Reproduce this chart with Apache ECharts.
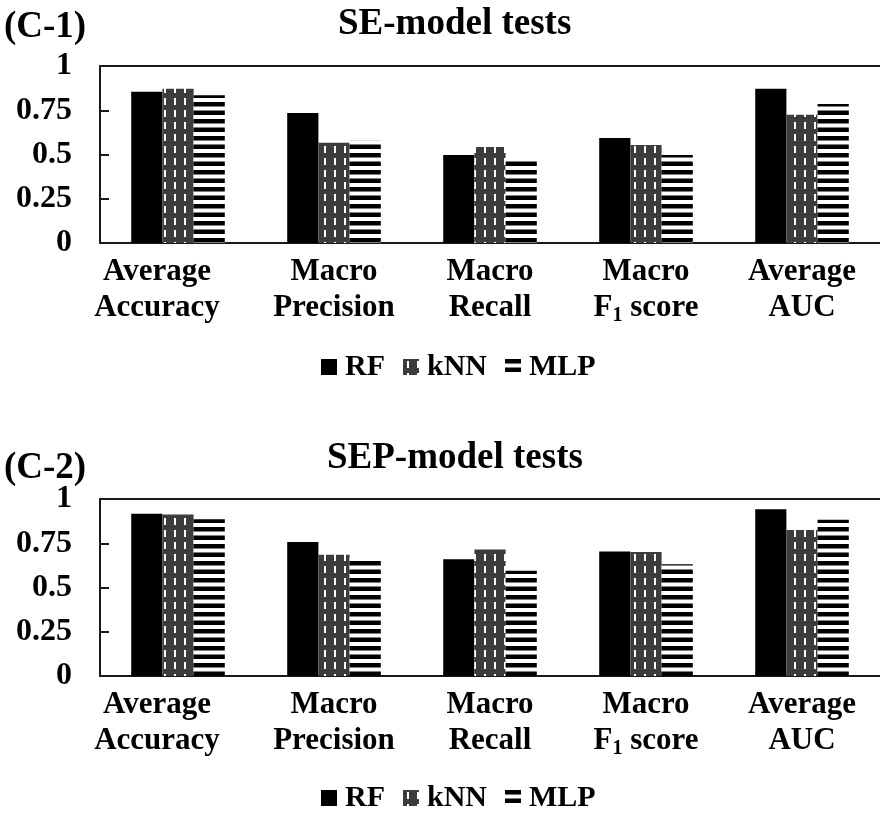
<!DOCTYPE html>
<html>
<head>
<meta charset="utf-8">
<script src="https://cdn.jsdelivr.net/npm/echarts@6.0.0/dist/echarts.min.js"></script>
<style>
  html, body { margin: 0; padding: 0; background: #fff; }
  #main { width: 880px; height: 814px; }
</style>
</head>
<body>
<div id="main"></div>
<script>
// categories and values
const categories = ["Average\nAccuracy", "Macro\nPrecision", "Macro\nRecall", "Macro\nF{s|1} score", "Average\nAUC"];
const seriesNames = ["RF", "kNN", "MLP"];

// (C-1) SE-model tests
const seRF = [0.854, 0.735, 0.497, 0.593, 0.871];
const seKNN = [0.871, 0.567, 0.542, 0.553, 0.725];
const seMLP = [0.835, 0.578, 0.465, 0.497, 0.786];

// (C-2) SEP-model tests
const sepRF = [0.917, 0.757, 0.659, 0.704, 0.942];
const sepKNN = [0.913, 0.685, 0.714, 0.700, 0.825];
const sepMLP = [0.885, 0.672, 0.595, 0.631, 0.883];

const FONT = "Liberation Serif";

// pattern fills, like the office-chart hatch styles
const makeKnnPattern = () => {
    const c = document.createElement("canvas");
    c.width = 10;
    c.height = 12;
    const ctx = c.getContext("2d");
    ctx.fillStyle = "#3c3c3c";
    ctx.fillRect(0, 0, 10, 12);
    ctx.fillStyle = "#ffffff";
    ctx.fillRect(4, 2, 2, 7);
    return c;
};

const makeMlpPattern = () => {
    const c = document.createElement("canvas");
    c.width = 4;
    c.height = 17;
    const ctx = c.getContext("2d");
    ctx.fillStyle = "#ffffff";
    ctx.fillRect(0, 0, 4, 17);
    ctx.fillStyle = "#000000";
    ctx.fillRect(0, 0, 4, 4.5);
    ctx.fillRect(0, 8.5, 4, 4.5);
    return c;
};

const knnFill = { image: makeKnnPattern(), repeat: "repeat" };
const mlpFill = { image: makeMlpPattern(), repeat: "repeat" };
const fills = ["#000000", knnFill, mlpFill];

const axisLineStyle = { color: "#1a1a1a", width: 2 };

const grids = [
    { left: 100, top: 66, width: 780, height: 177 },
    { left: 100, top: 499, width: 780, height: 177 }
];

// first label sits a bit left of its bar group in the original
const categoryData = categories.map((c, i) =>
    i === 0 ? { value: c, textStyle: { padding: [0, 42, 0, 0] } } : c
);

const xAxes = [];
const yAxes = [];
[0, 1].forEach(gi => {
    // bottom category axis with labels
    xAxes.push({
        type: "category",
        gridIndex: gi,
        data: categoryData,
        axisLine: { lineStyle: axisLineStyle },
        axisTick: { show: false },
        axisLabel: {
            interval: 0,
            margin: 11,
            color: "#000",
            fontFamily: FONT,
            fontWeight: "bold",
            fontSize: 31,
            lineHeight: 36,
            rich: {
                s: {
                    fontFamily: FONT,
                    fontWeight: "bold",
                    fontSize: 20,
                    color: "#000",
                    verticalAlign: "bottom",
                    lineHeight: 30
                }
            }
        }
    });
    // top frame line
    xAxes.push({
        type: "category",
        gridIndex: gi,
        position: "top",
        data: categories,
        axisLine: { lineStyle: axisLineStyle },
        axisTick: { show: false },
        axisLabel: { show: false }
    });
    yAxes.push({
        type: "value",
        gridIndex: gi,
        min: 0,
        max: 1,
        interval: 0.25,
        splitLine: { show: false },
        axisLine: { show: true, lineStyle: axisLineStyle },
        axisTick: { show: true, inside: true, length: 9, lineStyle: axisLineStyle },
        axisLabel: {
            margin: 28,
            color: "#000",
            fontFamily: FONT,
            fontWeight: "bold",
            fontSize: 32
        }
    });
});

const panelData = [[seRF, seKNN, seMLP], [sepRF, sepKNN, sepMLP]];
const series = [];
panelData.forEach((set, gi) => {
    set.forEach((vals, si) => {
        series.push({
            name: seriesNames[si],
            type: "bar",
            xAxisIndex: gi * 2,
            yAxisIndex: gi,
            barGap: "0%",
            barCategoryGap: "40%",
            itemStyle: { color: fills[si] },
            emphasis: { disabled: true },
            data: vals
        });
    });
});

const titleStyle = { fontFamily: FONT, fontWeight: "bold", fontSize: 37, color: "#000" };
const legendBase = {
    itemWidth: 16,
    itemHeight: 16,
    itemGap: 18,
    icon: "rect",
    textStyle: { fontFamily: FONT, fontWeight: "bold", fontSize: 30, color: "#000", padding: [0, 0, 0, 3] },
    data: seriesNames
};

const chart = echarts.init(document.getElementById("main"), null, { renderer: "canvas" });
chart.setOption({
    animation: false,
    backgroundColor: "#ffffff",
    title: [
        { text: "(C-1)", left: 4, top: 9, padding: 0, textStyle: titleStyle },
        { text: "SE-model tests", left: 338, top: 6, padding: 0, textStyle: titleStyle },
        { text: "(C-2)", left: 4, top: 450, padding: 0, textStyle: titleStyle },
        { text: "SEP-model tests", left: 327, top: 440, padding: 0, textStyle: titleStyle }
    ],
    legend: [
        Object.assign({ left: 321, top: 352, padding: 0 }, legendBase),
        Object.assign({ left: 321, top: 783, padding: 0 }, legendBase)
    ],
    grid: grids,
    xAxis: xAxes,
    yAxis: yAxes,
    series: series
});
</script>
</body>
</html>
